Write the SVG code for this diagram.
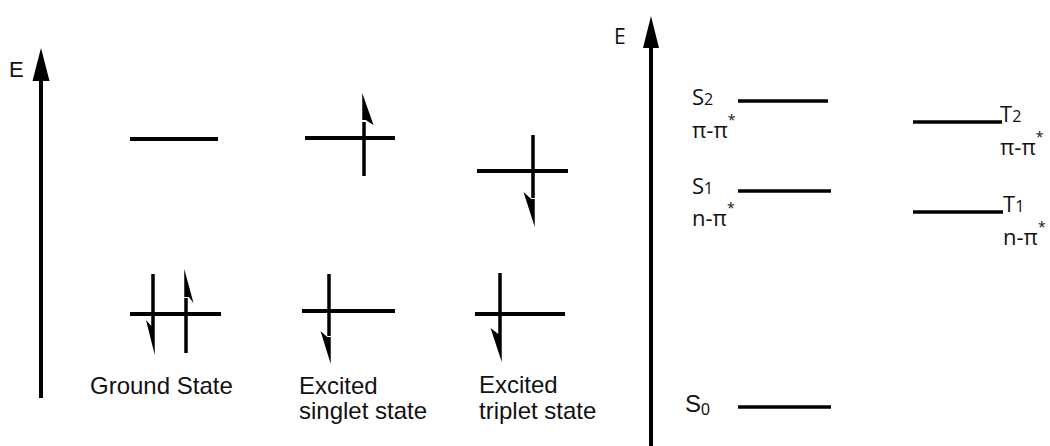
<svg xmlns="http://www.w3.org/2000/svg" width="1050" height="446" viewBox="0 0 1050 446">
<style>
.lvl{stroke:#000;stroke-width:4;fill:none}
.lvr{stroke:#000;stroke-width:3.5;fill:none}
.spin{stroke:#000;stroke-width:3.5;fill:none}
.head{fill:#000;stroke:none}
.axis{stroke:#000;stroke-width:4;fill:none}
.lt{font-family:"Liberation Sans",Arial,sans-serif;font-size:24px;fill:#111}
.rt{font-family:"Open Sans","Noto Sans",sans-serif;font-size:22px;fill:#111}
.sub{font-size:16px}
.sup{font-size:14px}
</style>
<rect width="1050" height="446" fill="#fff"/>
<g id="connectors">
  <line class="axis" x1="41" y1="398" x2="41" y2="76"/>
  <polygon class="head" points="41,48 32.5,81 49.5,81"/>
  <line class="axis" x1="651" y1="446" x2="651" y2="44"/>
  <polygon class="head" points="651,16 643,48 659,48"/>
</g>
<g id="axis-labels">
  <text class="lt" x="9" y="77" style="font-size:22px">E</text>
  <text class="rt" x="614" y="44" style="font-size:21px">E</text>
</g>
<g id="ground-state">
  <line class="lvl" x1="130" y1="139" x2="218" y2="139"/>
  <line class="lvl" x1="130" y1="314" x2="221" y2="314"/>
  <line class="spin" x1="153" y1="274" x2="153" y2="326"/>
  <polygon class="head" points="154.75,355 146,320 151.25,326 154.75,326"/>
  <line class="spin" x1="186" y1="353" x2="186" y2="298"/>
  <polygon class="head" points="184.25,269 193.5,303 188.75,297 184.25,297"/>
  <text class="lt" x="90" y="394">Ground State</text>
</g>
<g id="excited-singlet">
  <line class="lvl" x1="305" y1="138" x2="395" y2="138"/>
  <line class="spin" x1="364" y1="176" x2="364" y2="122"/>
  <polygon class="head" points="362.25,93 373.5,125 365.75,120 362.25,120"/>
  <line class="lvl" x1="302" y1="311" x2="395" y2="311"/>
  <line class="spin" x1="329" y1="274" x2="329" y2="336"/>
  <polygon class="head" points="330.75,364 320.5,331 327.25,337 330.75,337"/>
  <text class="lt" x="299" y="394">Excited</text>
  <text class="lt" x="299" y="419">singlet state</text>
</g>
<g id="excited-triplet">
  <line class="lvl" x1="477" y1="171" x2="568" y2="171"/>
  <line class="spin" x1="533" y1="135" x2="533" y2="198"/>
  <polygon class="head" points="534.75,227 523.5,192 531.25,199 534.75,199"/>
  <line class="lvl" x1="475" y1="314" x2="565" y2="314"/>
  <line class="spin" x1="500" y1="273" x2="500" y2="334"/>
  <polygon class="head" points="501.75,362 490.5,328 498.25,334 501.75,334"/>
  <text class="lt" x="479" y="393">Excited</text>
  <text class="lt" x="479" y="419">triplet state</text>
</g>
<g id="S2">
  <line class="lvr" x1="738" y1="101" x2="828" y2="101"/>
  <text class="rt" x="692" y="105">S<tspan class="sub">2</tspan></text>
  <text class="rt" x="692" y="138">π-π<tspan class="sup" dy="-13">*</tspan></text>
</g>
<g id="S1">
  <line class="lvr" x1="738" y1="191" x2="831" y2="191"/>
  <text class="rt" x="692" y="194">S<tspan class="sub">1</tspan></text>
  <text class="rt" x="692" y="226">n-π<tspan class="sup" dy="-13">*</tspan></text>
</g>
<g id="S0">
  <line class="lvr" x1="738" y1="407" x2="831" y2="407"/>
  <text class="lt" x="685" y="412" style="font-size:24px">S<tspan style="font-size:16px" dy="3">0</tspan></text>
</g>
<g id="T2">
  <line class="lvr" x1="913" y1="122" x2="1002" y2="122"/>
  <text class="rt" x="1000" y="122">T<tspan class="sub">2</tspan></text>
  <text class="rt" x="1000" y="155">π-π<tspan class="sup" dy="-13">*</tspan></text>
</g>
<g id="T1">
  <line class="lvr" x1="913" y1="212" x2="1003" y2="212"/>
  <text class="rt" x="1003" y="212">T<tspan class="sub">1</tspan></text>
  <text class="rt" x="1003" y="245">n-π<tspan class="sup" dy="-13">*</tspan></text>
</g>
</svg>
